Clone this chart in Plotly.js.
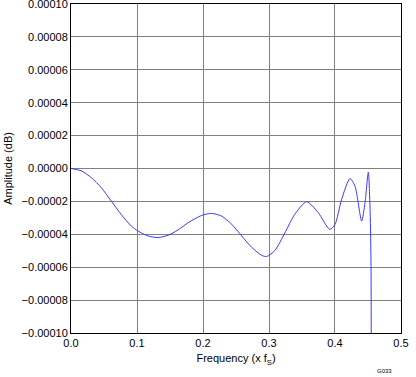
<!DOCTYPE html>
<html><head><meta charset="utf-8">
<script src="https://cdn.plot.ly/plotly-3.0.1.min.js"></script>
<style>html,body{margin:0;padding:0;background:#fff;}#c{width:416px;height:377px;}</style>
</head><body><div id="c"></div>
<script>
var freq = [0, 0.0156, 0.0308, 0.046, 0.061, 0.076, 0.0914, 0.1015, 0.1167, 0.132, 0.147, 0.162, 0.1777, 0.198, 0.213, 0.228, 0.2435, 0.2586, 0.274, 0.289, 0.2965, 0.309, 0.324, 0.339, 0.357, 0.3747, 0.392, 0.400, 0.410, 0.4227, 0.4303, 0.4404, 0.4455, 0.4505, 0.453, 0.4545, 0.455];
var amp = [0, -0.0000014, -0.0000056, -0.0000117, -0.0000198, -0.0000279, -0.000035, -0.000038, -0.000041, -0.000042, -0.0000406, -0.0000374, -0.0000329, -0.0000285, -0.0000273, -0.0000289, -0.0000339, -0.000041, -0.000048, -0.0000528, -0.0000535, -0.0000498, -0.0000392, -0.0000279, -0.0000202, -0.0000269, -0.000037, -0.000034, -0.0000188, -0.0000061, -0.0000107, -0.0000319, -0.0000208, -0.0000022, -0.0000228, -0.000055, -0.00012];
var xTitle = 'Frequency (x f<sub>S</sub>)';
var yTitle = 'Amplitude (dB)';
var note = 'G033';

var trace = {x: freq, y: amp, type: 'scatter', mode: 'lines', line: {color: '#3a3aff', width: 1, shape: 'spline', smoothing: 0.7}, hoverinfo: 'none'};
var fontFam = 'Liberation Sans, Arial, sans-serif';
var layout = {
  width: 416, height: 377,
  margin: {l: 71, r: 15, t: 4, b: 44, pad: 0},
  paper_bgcolor: '#fff', plot_bgcolor: '#fff',
  showlegend: false,
  font: {family: fontFam, size: 11, color: '#000'},
  xaxis: {range: [0, 0.50001], dtick: 0.1, tick0: 0, tickformat: '.1f', showgrid: true, gridcolor: '#808080', gridwidth: 1,
    zeroline: false, showline: true, linecolor: '#000', linewidth: 1, mirror: true, ticks: '', ticklen: 0,
    ticklabeloverflow: 'allow', tickfont: {size: 11}, title: {text: xTitle, font: {size: 11}, standoff: 6}},
  yaxis: {range: [-0.0001, 0.0001000001], dtick: 0.00002, tick0: 0, tickformat: '.5f', showgrid: true, gridcolor: '#808080', gridwidth: 1,
    zeroline: false, showline: true, linecolor: '#000', linewidth: 1, mirror: true, ticks: '', ticklen: 0,
    ticklabeloverflow: 'allow', tickfont: {size: 11}, title: {text: yTitle, font: {size: 11}, standoff: 6}},
  annotations: [{text: note, xref: 'paper', yref: 'paper', x: 0.979, y: -0.1155, xanchor: 'right', yanchor: 'middle', showarrow: false, font: {size: 6, color: '#000'}}]
};
Plotly.newPlot('c', [trace], layout, {displayModeBar: false, staticPlot: true});
</script></body></html>
